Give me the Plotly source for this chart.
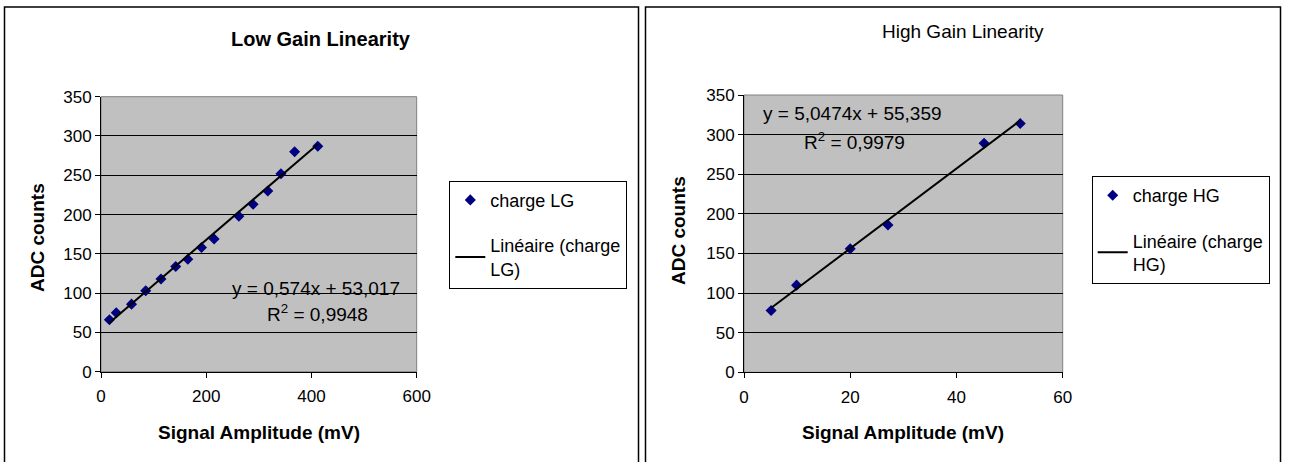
import plotly.graph_objects as go

W, H = 1289, 462

# ---- data ----
lg_x = [16, 29, 58, 85, 114, 142, 165, 191, 215, 262, 289, 317, 342, 368, 412]
lg_y = [66, 75, 86, 103, 118, 134, 143, 158, 169, 198, 213, 230, 252, 280, 287]
lg_slope, lg_icpt = 0.574, 53.017
lg_eq = "y = 0,574x + 53,017"
lg_r2 = "R<sup>2</sup> = 0,9948"

hg_x = [5.1, 9.9, 20.0, 27.1, 45.2, 52.0]
hg_y = [78, 110, 156, 186, 289, 314]
hg_slope, hg_icpt = 5.0474, 55.359
hg_eq = "y = 5,0474x + 55,359"
hg_r2 = "R<sup>2</sup> = 0,9979"

lg_xticks = [0, 200, 400, 600]
hg_xticks = [0, 20, 40, 60]
y_ticks = [0, 50, 100, 150, 200, 250, 300, 350]

FONT = "Arial, Liberation Sans, sans-serif"
NAVY = "#000080"
GRAY = "#C0C0C0"


def px(x):
    return x / W


def py(y):
    return 1 - y / H


fig = go.Figure()

# Low gain
fig.add_trace(go.Scatter(x=lg_x, y=lg_y, mode="markers", name="charge LG",
                         marker=dict(symbol="diamond", color=NAVY, size=8.5),
                         xaxis="x", yaxis="y", legend="legend", legendgroup="a"))
lx = [min(lg_x), max(lg_x)]
fig.add_trace(go.Scatter(x=lx, y=[lg_slope * v + lg_icpt for v in lx], mode="lines",
                         name="Linéaire (charge<br>LG)", line=dict(color="black", width=2),
                         xaxis="x", yaxis="y", legend="legend", legendgroup="b"))

# High gain
fig.add_trace(go.Scatter(x=hg_x, y=hg_y, mode="markers", name="charge HG",
                         marker=dict(symbol="diamond", color=NAVY, size=8.5),
                         xaxis="x2", yaxis="y2", legend="legend2", legendgroup="c"))
hx = [min(hg_x), max(hg_x)]
fig.add_trace(go.Scatter(x=hx, y=[hg_slope * v + hg_icpt for v in hx], mode="lines",
                         name="Linéaire (charge<br>HG)", line=dict(color="black", width=2),
                         xaxis="x2", yaxis="y2", legend="legend2", legendgroup="d"))

axis_common = dict(showgrid=False, zeroline=False, showline=True, linecolor="black",
                   linewidth=1, ticks="outside", ticklen=5, tickcolor="black",
                   tickfont=dict(family=FONT, size=17, color="black"), automargin=False,
                   fixedrange=True)
xaxis_common = dict(axis_common, ticklabelstandoff=4)
yaxis_common = dict(axis_common, showgrid=True, gridcolor="black", gridwidth=1,
                    range=[0, 350], tickvals=y_ticks)

fig.update_layout(
    width=W, height=H, margin=dict(l=0, r=0, t=0, b=0),
    paper_bgcolor="white", plot_bgcolor=GRAY, showlegend=True,
    xaxis=dict(xaxis_common, domain=[px(101), px(416.7)], range=[0, 600],
               tickvals=lg_xticks, anchor="y"),
    yaxis=dict(yaxis_common, domain=[py(371.7), py(96.7)], anchor="x"),
    xaxis2=dict(xaxis_common, domain=[px(744), px(1062.7)], range=[0, 60],
                tickvals=hg_xticks, anchor="y2"),
    yaxis2=dict(yaxis_common, domain=[py(372.3), py(95)], anchor="x2"),
    legend=dict(x=px(449.3), y=py(180.7), xanchor="left", yanchor="top",
                bordercolor="black", borderwidth=1, bgcolor="white",
                font=dict(family=FONT, size=18, color="black"), tracegroupgap=19),
    legend2=dict(x=px(1091.7), y=py(176), xanchor="left", yanchor="top",
                 bordercolor="black", borderwidth=1, bgcolor="white",
                 font=dict(family=FONT, size=18, color="black"), tracegroupgap=19),
)

# chart boxes and plot-area frames
shapes = [
    dict(type="rect", xref="paper", yref="paper", x0=px(4.5), x1=px(638.5),
         y0=-0.05, y1=py(7), line=dict(color="black", width=1.5), layer="below"),
    dict(type="rect", xref="paper", yref="paper", x0=px(645.5), x1=px(1280.5),
         y0=-0.05, y1=py(7), line=dict(color="black", width=1.5), layer="below"),
    dict(type="rect", xref="x domain", yref="y domain", x0=0, x1=1, y0=0, y1=1,
         line=dict(color="#808080", width=1), layer="below"),
    dict(type="rect", xref="x2 domain", yref="y2 domain", x0=0, x1=1, y0=0, y1=1,
         line=dict(color="#808080", width=1), layer="below"),
]
fig.update_layout(shapes=shapes)

ann = []


def text(x, y, s, size, bold=False, angle=0):
    ann.append(dict(x=px(x), y=py(y), xref="paper", yref="paper", text=s, showarrow=False,
                    xanchor="center", yanchor="middle", textangle=angle,
                    font=dict(family=FONT, size=size, color="black",
                              weight="bold" if bold else "normal")))


text(321, 39, "Low Gain Linearity", 20, bold=True)
text(963, 31, "High Gain Linearity", 19)
text(259, 432, "Signal Amplitude (mV)", 19, bold=True)
text(903, 432, "Signal Amplitude (mV)", 19, bold=True)
text(37, 238, "ADC counts", 19, bold=True, angle=-90)
text(678, 231, "ADC counts", 19, bold=True, angle=-90)
text(316, 288, lg_eq, 19)
text(317, 313, lg_r2, 19)
text(852, 113, hg_eq, 19)
text(854, 141, hg_r2, 19)
fig.update_layout(annotations=ann)

fig.write_html("out.html", config={"displayModeBar": False},
               post_script="document.body.style.margin='0';document.body.style.padding='0';")
